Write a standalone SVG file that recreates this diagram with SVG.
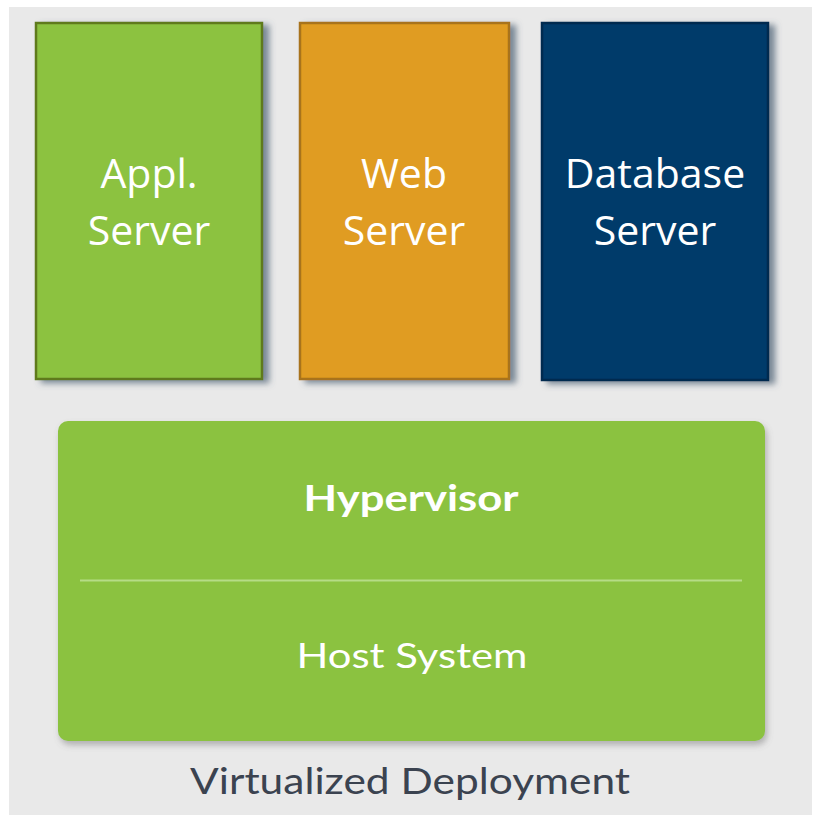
<svg xmlns="http://www.w3.org/2000/svg" width="815" height="815" viewBox="0 0 815 815">
<defs>
<filter id="sh" x="-10%" y="-10%" width="130%" height="130%">
<feDropShadow dx="6" dy="3" stdDeviation="3" flood-color="#4a5e72" flood-opacity="0.7"/>
</filter>
<filter id="sh2" x="-10%" y="-10%" width="130%" height="130%">
<feDropShadow dx="2" dy="4" stdDeviation="3" flood-color="#6a6a6a" flood-opacity="0.45"/>
</filter>
</defs>
<style>
.box{stroke-width:2.5}
.lbl{font-family:"Open Sans","Liberation Sans",sans-serif;font-size:41px;fill:#ffffff;text-anchor:middle}
.hv{font-family:Lato,"Noto Sans",sans-serif;fill:#ffffff;text-anchor:middle}
</style>
<rect x="0" y="0" width="815" height="815" fill="#ffffff"/>
<rect x="9" y="7" width="803" height="808" fill="#e9e9e9"/>
<g id="appl-server">
<rect class="box" x="36" y="23" width="226" height="356" fill="#8cc241" stroke="#5f7a1c" filter="url(#sh)"/>
<text class="lbl" x="149" y="188">Appl.</text>
<text class="lbl" x="149" y="245">Server</text>
</g>
<g id="web-server">
<rect class="box" x="300" y="23" width="209" height="356" fill="#e09c20" stroke="#a8731a" filter="url(#sh)"/>
<text class="lbl" x="404" y="188">Web</text>
<text class="lbl" x="404" y="245">Server</text>
</g>
<g id="database-server">
<rect class="box" x="542" y="23" width="226" height="357" fill="#003a6b" stroke="#002a50" filter="url(#sh)"/>
<text class="lbl" x="655" y="188">Database</text>
<text class="lbl" x="655" y="245">Server</text>
</g>
<g id="host">
<rect x="58" y="421" width="707" height="320" rx="10" ry="10" fill="#8bc241" filter="url(#sh2)"/>
<line x1="80" y1="580.5" x2="742" y2="580.5" stroke="#b6dc86" stroke-width="2"/>
<text class="hv" x="411" y="511" font-size="36" font-weight="bold" textLength="215" lengthAdjust="spacingAndGlyphs">Hypervisor</text>
<text class="hv" x="412" y="668" font-size="35" textLength="231" lengthAdjust="spacingAndGlyphs" fill="#f4f9ec">Host System</text>
</g>
<g id="caption">
<text x="410" y="794" font-family="Lato,'Noto Sans',sans-serif" font-size="37" fill="#3b4350" text-anchor="middle" textLength="440" lengthAdjust="spacingAndGlyphs">Virtualized Deployment</text>
</g>
<g id="connectors"></g>
</svg>
